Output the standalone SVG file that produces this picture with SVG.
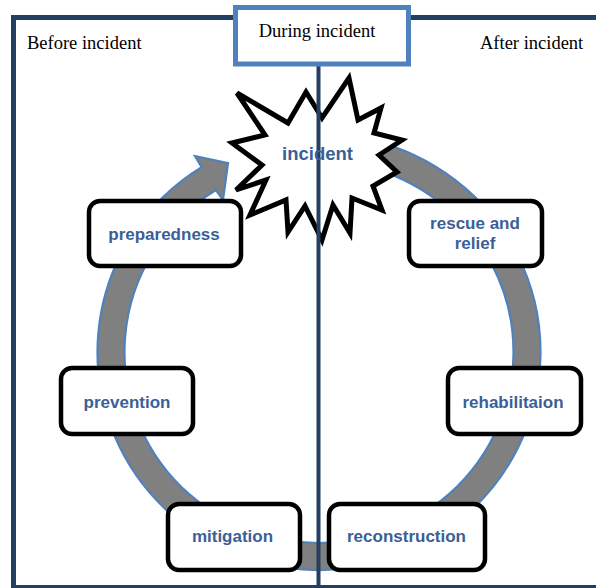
<svg xmlns="http://www.w3.org/2000/svg" width="596" height="588" viewBox="0 0 596 588">
<style>
.hdr{font-family:"Liberation Serif","Times New Roman",serif;font-size:18.5px;fill:#000}
.box{fill:#fff;stroke:#000;stroke-width:4.5}
.lbl{font-family:"Liberation Sans",Arial,sans-serif;font-weight:bold;font-size:17px;fill:#3a5f98;text-anchor:middle}
</style>
<rect width="596" height="588" fill="#fff"/>
<g id="frame">
<rect x="13.5" y="17.5" width="620" height="570" fill="none" stroke="#243f60" stroke-width="5"/>
<text class="hdr" x="27" y="49">Before incident</text>
<text class="hdr" x="480" y="49">After incident</text>
</g>
<g id="connectors">
<path d="M357.46,137.31 A221.5,218 0 1 1 201.62,167.13 L195,156 L228,163 L223,200 L215.93,190.02 A194.5,191 0 1 0 352.77,163.9 Z" fill="#808080" stroke="#4f81bd" stroke-width="2.2" stroke-linejoin="miter"/>
</g>
<g id="incident">
<polygon points="237,93 288,123 306,92 322,118 349,78 358,120 381,108 374,133 402,140 379,155 397,172 373,186 382,210 352,198 350,233 333,205 322,240 305,206 288,232 286,200 250,215 266,180 236,190 262,165 232,143 265,135" fill="#fff" stroke="#000" stroke-width="5" stroke-linejoin="miter"/>
</g>
<line id="divider" x1="318.5" y1="64" x2="318.5" y2="588" stroke="#243f60" stroke-width="4"/>
<text class="lbl" x="317.5" y="159.5" style="font-size:18.5px">incident</text>
<g id="preparedness">
<rect class="box" x="89" y="201" width="152" height="65" rx="11"/>
<text class="lbl" x="164" y="239.5">preparedness</text>
</g>
<g id="rescue">
<rect class="box" x="409" y="201" width="133" height="65" rx="11"/>
<text class="lbl" x="475" y="228.5">rescue and</text>
<text class="lbl" x="475" y="248.5">relief</text>
</g>
<g id="prevention">
<rect class="box" x="61" y="368" width="132" height="66" rx="11"/>
<text class="lbl" x="127" y="407.5">prevention</text>
</g>
<g id="rehabilitaion">
<rect class="box" x="448" y="368" width="133" height="66" rx="11"/>
<text class="lbl" x="513" y="407.5">rehabilitaion</text>
</g>
<g id="mitigation">
<rect class="box" x="168" y="504" width="132" height="66" rx="11"/>
<text class="lbl" x="232.5" y="541.5">mitigation</text>
</g>
<g id="reconstruction">
<rect class="box" x="329" y="504" width="156" height="66" rx="11"/>
<text class="lbl" x="406.5" y="541.5">reconstruction</text>
</g>
<g id="during">
<rect x="235.5" y="7.5" width="173" height="56.5" fill="#fff" stroke="#4f81bd" stroke-width="5"/>
<text class="hdr" x="317" y="36.5" text-anchor="middle">During incident</text>
</g>
</svg>
